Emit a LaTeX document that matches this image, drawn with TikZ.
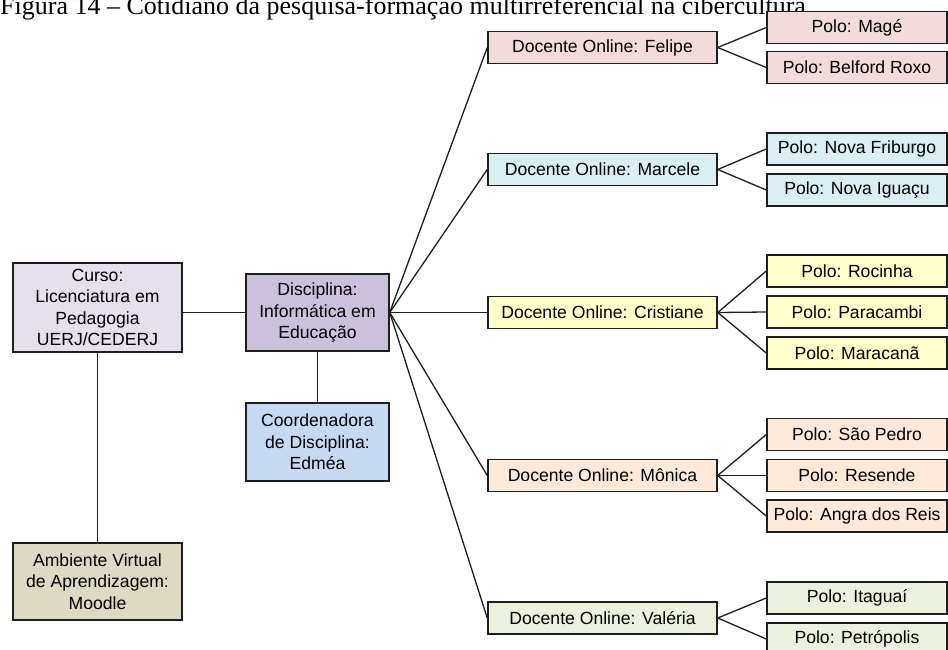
\documentclass[tikz,border=0pt]{standalone}
\usepackage{fontspec}
\setmainfont{Liberation Sans}
\newfontfamily\captionserif{Liberation Serif}
\definecolor{cursofill}{HTML}{E6E0EC}
\definecolor{discfill}{HTML}{CCC1DA}
\definecolor{coordfill}{HTML}{C6D9F1}
\definecolor{avafill}{HTML}{DDD9C4}
\definecolor{felipefill}{HTML}{F2DCDB}
\definecolor{marcelefill}{HTML}{DBEEF4}
\definecolor{cristianefill}{HTML}{FFFFCC}
\definecolor{monicafill}{HTML}{FDE9D9}
\definecolor{valeriafill}{HTML}{EBF1DE}
\definecolor{edge}{HTML}{1E1E1E}
\tikzset{
  box/.style={draw=edge, line width=1.5pt, inner sep=0pt, align=center,
    font=\fontsize{17.6}{21.5}\selectfont},
  bigbox/.style={box, minimum width=169pt},
  midbox/.style={box, minimum width=143pt},
  docbox/.style={box, minimum width=229pt, minimum height=32pt},
  polobox/.style={box, minimum width=180pt, minimum height=32pt},
  link/.style={draw=edge, line width=1.3pt}
}
\begin{document}
\begin{tikzpicture}[x=1pt, y=-1pt]
\useasboundingbox (0,0) rectangle (948,650);
\clip (0,0) rectangle (948,650);

% caption line
\node[anchor=base west, inner sep=0pt, font=\captionserif\fontsize{26}{30}\selectfont] (cap) at (0,15)
  {Figura 14 – Cotidiano da pesquisa-formação multirreferencial na cibercultura};

% left column
\node[bigbox, fill=cursofill, minimum height=89pt] (curso) at (97.5,307.5)
  {Curso:\\Licenciatura em\\Pedagogia\\UERJ/CEDERJ};
\node[bigbox, fill=avafill, minimum height=77pt] (ava) at (97.5,581.5)
  {Ambiente Virtual\\de Aprendizagem:\\Moodle};

% middle column
\node[midbox, fill=discfill, minimum height=77pt] (disc) at (317.5,312.5)
  {Disciplina:\\Informática em\\Educação};
\node[midbox, fill=coordfill, minimum height=78pt] (coord) at (317.5,442)
  {Coordenadora\\de Disciplina:\\Edméa};

% online tutors
\node[docbox, fill=felipefill] (felipe) at (602.5,47.5) {Docente Online: Felipe};
\node[docbox, fill=marcelefill] (marcele) at (602.5,169.5) {Docente Online: Marcele};
\node[docbox, fill=cristianefill] (cristiane) at (602.5,312.5) {Docente Online: Cristiane};
\node[docbox, fill=monicafill] (monica) at (602.5,475.5) {Docente Online: Mônica};
\node[docbox, fill=valeriafill] (valeria) at (602.5,618) {Docente Online: Valéria};

% poles
\node[polobox, fill=felipefill] (mage) at (857,27.5) {Polo: Magé};
\node[polobox, fill=felipefill] (belford) at (857,67.5) {Polo: Belford Roxo};
\node[polobox, fill=marcelefill] (friburgo) at (857,149) {Polo: Nova Friburgo};
\node[polobox, fill=marcelefill] (iguacu) at (857,190) {Polo: Nova Iguaçu};
\node[polobox, fill=cristianefill] (rocinha) at (857,271) {Polo: Rocinha};
\node[polobox, fill=cristianefill] (paracambi) at (857,312) {Polo: Paracambi};
\node[polobox, fill=cristianefill] (maracana) at (857,353) {Polo: Maracanã};
\node[polobox, fill=monicafill] (saopedro) at (857,434.5) {Polo: São Pedro};
\node[polobox, fill=monicafill] (resende) at (857,475.5) {Polo: Resende};
\node[polobox, fill=monicafill] (angra) at (857,516) {Polo: Angra dos Reis};
\node[polobox, fill=valeriafill] (itaguai) at (857,598) {Polo: Itaguaí};
\node[polobox, fill=valeriafill] (petropolis) at (857,639) {Polo: Petrópolis};

% connectors
\draw[link] (curso.east |- disc) -- (disc.west);
\draw[link] (curso.south) -- (ava.north);
\draw[link] (disc.south) -- (coord.north);
\foreach \d in {felipe,marcele,cristiane,monica,valeria}
  \draw[link] (disc.east) -- (\d.west);
\foreach \d/\p in {felipe/mage,felipe/belford,
                   marcele/friburgo,marcele/iguacu,
                   cristiane/rocinha,cristiane/paracambi,cristiane/maracana,
                   monica/saopedro,monica/resende,monica/angra,
                   valeria/itaguai,valeria/petropolis}
  \draw[link] (\d.east) -- (\p.west);
\end{tikzpicture}
\end{document}
